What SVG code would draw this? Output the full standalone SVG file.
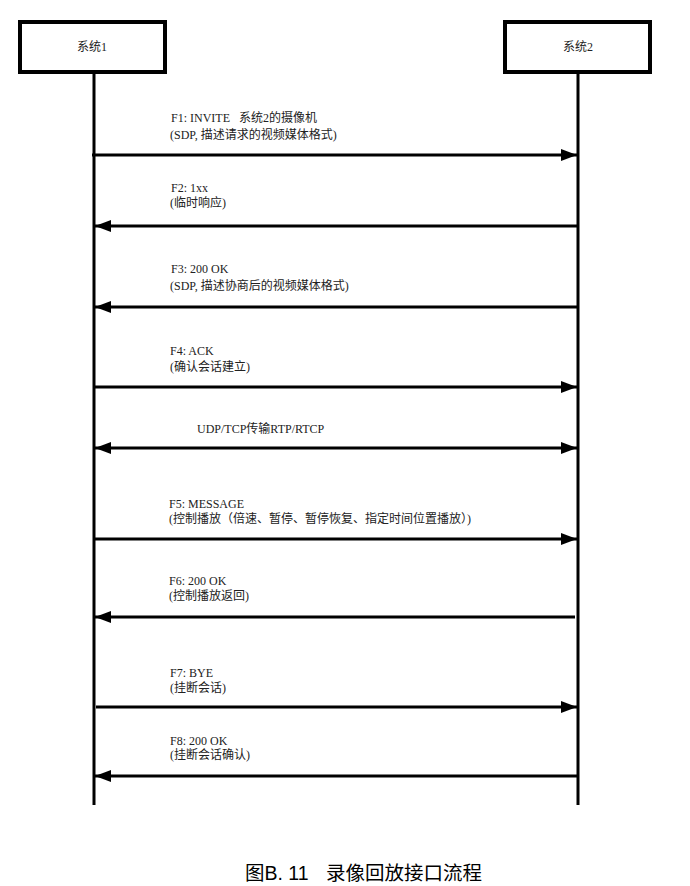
<svg xmlns="http://www.w3.org/2000/svg" width="690" height="886" viewBox="0 0 690 886">
<style>
.box{fill:#fff;stroke:#000;stroke-width:4}
.life{stroke:#000;stroke-width:3;fill:none}
.msg{stroke:#000;stroke-width:3;fill:none}
.lbl{font-family:"Liberation Serif","Noto Sans CJK SC",serif;font-size:12px;fill:#222}
.cap{font-family:"Liberation Sans","Noto Sans CJK SC",sans-serif;font-size:19.5px;fill:#000}
</style>
<defs>
<marker id="ah" viewBox="0 0 16 12" refX="16" refY="6" markerWidth="16" markerHeight="12" markerUnits="userSpaceOnUse" orient="auto-start-reverse">
<path d="M0,0 L16,6 L0,12 z" fill="#000"/>
</marker>
</defs>
<rect width="690" height="886" fill="#fff"/>
<g id="sys1">
<rect class="box" x="20" y="22" width="145" height="50"/>
<text class="lbl" x="92" y="51" text-anchor="middle">系统1</text>
<line class="life" x1="94" y1="72" x2="94" y2="805"/>
</g>
<g id="sys2">
<rect class="box" x="505" y="22" width="145" height="50"/>
<text class="lbl" x="578" y="51" text-anchor="middle">系统2</text>
<line class="life" x1="578" y1="72" x2="578" y2="805"/>
</g>
<g id="connectors">
<line class="msg" x1="92" y1="155" x2="577" y2="155" marker-end="url(#ah)"/>
<line class="msg" x1="577" y1="226" x2="95" y2="226" marker-end="url(#ah)"/>
<line class="msg" x1="577" y1="307" x2="95" y2="307" marker-end="url(#ah)"/>
<line class="msg" x1="94" y1="387" x2="577" y2="387" marker-end="url(#ah)"/>
<line class="msg" x1="95" y1="448" x2="577" y2="448" marker-start="url(#ah)" marker-end="url(#ah)"/>
<line class="msg" x1="94" y1="539" x2="577" y2="539" marker-end="url(#ah)"/>
<line class="msg" x1="575" y1="617" x2="95" y2="617" marker-end="url(#ah)"/>
<line class="msg" x1="96" y1="707" x2="577" y2="707" marker-end="url(#ah)"/>
<line class="msg" x1="577" y1="776" x2="95" y2="776" marker-end="url(#ah)"/>
</g>
<g id="labels">
<text class="lbl" x="171" y="122" xml:space="preserve">F1: INVITE   系统2的摄像机</text>
<text class="lbl" x="170" y="139">(SDP, 描述请求的视频媒体格式)</text>
<text class="lbl" x="171" y="192">F2: 1xx</text>
<text class="lbl" x="170" y="207">(临时响应)</text>
<text class="lbl" x="171" y="273">F3: 200 OK</text>
<text class="lbl" x="170" y="290">(SDP, 描述协商后的视频媒体格式)</text>
<text class="lbl" x="170" y="355">F4: ACK</text>
<text class="lbl" x="170" y="371">(确认会话建立)</text>
<text class="lbl" x="197" y="433">UDP/TCP传输RTP/RTCP</text>
<text class="lbl" x="169" y="508">F5: MESSAGE</text>
<text class="lbl" x="169" y="523">(控制播放（倍速、暂停、暂停恢复、指定时间位置播放）)</text>
<text class="lbl" x="169" y="585">F6: 200 OK</text>
<text class="lbl" x="169" y="600">(控制播放返回)</text>
<text class="lbl" x="170" y="677">F7: BYE</text>
<text class="lbl" x="170" y="692">(挂断会话)</text>
<text class="lbl" x="170" y="745">F8: 200 OK</text>
<text class="lbl" x="170" y="759">(挂断会话确认)</text>
</g>
<g id="caption">
<text class="cap" x="245" y="880">图B. 11</text>
<text class="cap" x="326" y="880">录像回放接口流程</text>
</g>
</svg>
